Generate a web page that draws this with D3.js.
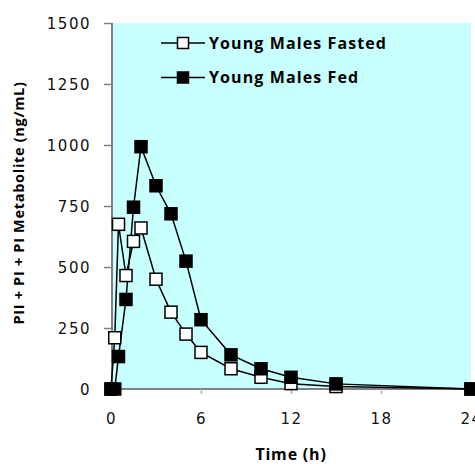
<!DOCTYPE html>
<html>
<head>
<meta charset="utf-8">
<script src="https://cdn.jsdelivr.net/npm/d3@7"></script>
<style>
  html, body { margin: 0; padding: 0; background: #fff; }
  svg { display: block; }
  .tick-label { font-family: "DejaVu Sans", Verdana, sans-serif; font-size: 15px; letter-spacing: 1.5px; fill: #111; }
  .title { font-family: "Open Sans", "Liberation Sans", sans-serif; font-weight: bold; fill: #000; }
</style>
</head>
<body>
<svg id="chart" width="475" height="464"></svg>
<script>
// --- データ ---
const timePoints = [0, 0.25, 0.5, 1, 1.5, 2, 3, 4, 5, 6, 8, 10, 12, 15, 24];
const fastedValues = [0, 210, 675, 465, 605, 660, 450, 315, 225, 150, 83, 48, 22, 10, 0];
const fedValues = [0, 0, 133, 367, 745, 993, 833, 718, 524, 284, 140, 83, 48, 21, 0];
const seriesNames = ["Young Males Fasted", "Young Males Fed"];
const xTicks = [0, 6, 12, 18, 24];
const yTicks = [0, 250, 500, 750, 1000, 1250, 1500];

const series = [
    { name: seriesNames[0], values: fastedValues, fill: "#fff" },
    { name: seriesNames[1], values: fedValues, fill: "#000" }
];

// --- 描画 ---
const svg = d3.select("#chart");
const plot = { left: 112, right: 471, top: 23, bottom: 389 };

const x = d3.scaleLinear().domain([0, 24]).range([111, 471]);
const y = d3.scaleLinear().domain([0, 1500]).range([plot.bottom, plot.top]);

// 背景
svg.append("rect")
    .attr("x", plot.left).attr("y", plot.top)
    .attr("width", plot.right - plot.left).attr("height", plot.bottom - plot.top)
    .attr("fill", "#c8ffff");

// Y軸
const yAxis = svg.append("g")
    .attr("transform", `translate(${plot.left},0)`)
    .call(d3.axisLeft(y).tickValues(yTicks).tickFormat(d3.format("d")).tickSize(8).tickPadding(13));
yAxis.select(".domain").attr("stroke", "#808080").attr("stroke-width", 2)
    .attr("d", `M0,${plot.top}V${plot.bottom}`);
yAxis.selectAll(".tick line").attr("stroke", "#808080").attr("stroke-width", 1.5);
yAxis.selectAll(".tick text").attr("class", "tick-label").attr("dy", "0.36em");

// X軸
const xAxis = svg.append("g")
    .attr("transform", `translate(0,${plot.bottom})`)
    .call(d3.axisBottom(x).tickValues(xTicks).tickFormat(d3.format("d")).tickSize(5).tickPadding(24));
xAxis.select(".domain").attr("stroke", "#808080").attr("stroke-width", 2)
    .attr("d", `M${plot.left},0H${plot.right}`);
xAxis.selectAll(".tick line").attr("stroke", "#b0b0b0").attr("stroke-width", 1.5)
    .attr("display", d => (d === 0 || d === 24) ? "none" : null);
xAxis.selectAll(".tick text").attr("class", "tick-label").attr("dy", "0.4em");

// 軸タイトル
svg.append("text").attr("class", "title")
    .attr("x", 291).attr("y", 460)
    .attr("text-anchor", "middle").attr("font-size", 16).attr("letter-spacing", 0.8)
    .text("Time (h)");

svg.append("text").attr("class", "title")
    .attr("transform", "translate(24,203) rotate(-90)")
    .attr("text-anchor", "middle").attr("font-size", 14.5).attr("letter-spacing", 0.7)
    .text("PII + PI + PI Metabolite (ng/mL)");

// 系列
const line = d3.line().x(d => x(d[0])).y(d => y(d[1]));
const markerSize = 12;

series.forEach(s => {
    const pts = timePoints.map((t, i) => [t, s.values[i]]);
    svg.append("path").datum(pts)
        .attr("fill", "none").attr("stroke", "#000").attr("stroke-width", 1.5)
        .attr("d", line);
});
series.forEach(s => {
    const pts = timePoints.map((t, i) => [t, s.values[i]]);
    svg.append("g").selectAll("rect").data(pts).enter().append("rect")
        .attr("x", d => x(d[0]) - markerSize / 2)
        .attr("y", d => y(d[1]) - markerSize / 2)
        .attr("width", markerSize).attr("height", markerSize)
        .attr("fill", s.fill).attr("stroke", "#000").attr("stroke-width", 1.5);
});

// 凡例
const legend = svg.append("g");
series.forEach((s, i) => {
    const ly = 43 + i * 34.5;
    legend.append("line")
        .attr("x1", 161).attr("x2", 205).attr("y1", ly).attr("y2", ly)
        .attr("stroke", "#000").attr("stroke-width", 1.5);
    legend.append("rect")
        .attr("x", 183 - 5.5).attr("y", ly - 5.5).attr("width", 11).attr("height", 11)
        .attr("fill", s.fill).attr("stroke", "#000").attr("stroke-width", 1.5);
    legend.append("text").attr("class", "title")
        .attr("x", 209).attr("y", ly + 5.5).attr("font-size", 16).attr("letter-spacing", 1.1)
        .text(s.name);
});
</script>
</body>
</html>
